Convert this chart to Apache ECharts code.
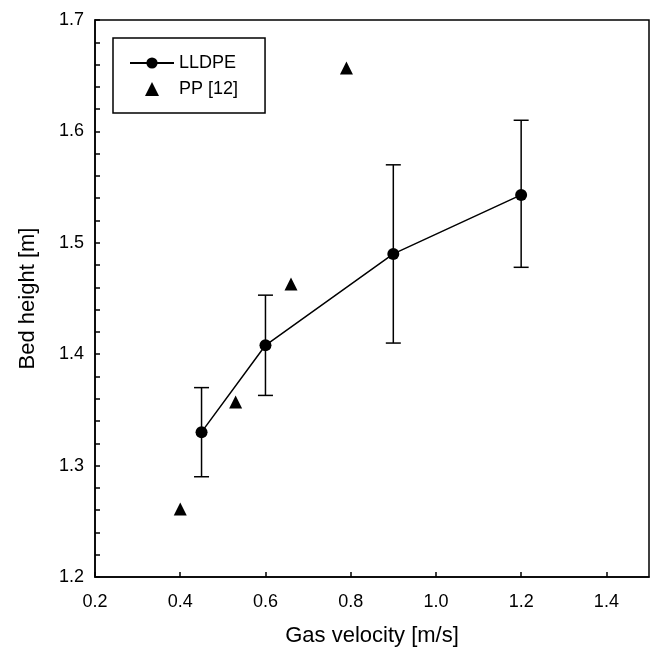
<!DOCTYPE html>
<html>
<head>
<meta charset="utf-8">
<script src="https://cdn.jsdelivr.net/npm/echarts@6/dist/echarts.min.js"></script>
<style>
html,body{margin:0;padding:0;background:#fff;}
#chart{width:656px;height:653px;}
</style>
</head>
<body>
<div id="chart"></div>
<script>
// LLDPE (this work), with error bars
const lldpeX = [0.45, 0.6, 0.9, 1.2];
const lldpeY = [1.330, 1.408, 1.490, 1.543];
const lldpeHigh = [1.370, 1.453, 1.570, 1.610];
const lldpeLow = [1.290, 1.363, 1.410, 1.478];
// PP [12]
const ppX = [0.40, 0.53, 0.66, 0.79];
const ppY = [1.261, 1.357, 1.463, 1.657];

const chart = echarts.init(document.getElementById('chart'), null, {renderer: 'canvas'});
const font = 'Liberation Sans, Arial, sans-serif';

const lineData = lldpeX.map((x, i) => [x, lldpeY[i]]);
const ppData = ppX.map((x, i) => [x, ppY[i]]);
const errData = lldpeX.map((x, i) => [x, lldpeLow[i], lldpeHigh[i]]);

chart.setOption({
  animation: false,
  backgroundColor: '#fff',
  grid: {
    left: 95, right: 7, top: 20, bottom: 76,
    show: true, borderColor: '#000', borderWidth: 1.5, backgroundColor: 'transparent'
  },
  legend: {
    left: 113, top: 38,
    orient: 'vertical',
    data: [
      {name: 'LLDPE'},
      {name: 'PP [12]', icon: 'path://M0,-1 L1,1 L-1,1 Z', itemStyle: {color: '#000', opacity: 1}}
    ],
    itemWidth: 44, itemHeight: 14, itemGap: 8,
    padding: [16, 27, 15, 16],
    borderColor: '#000', borderWidth: 1.5,
    textStyle: {fontFamily: font, fontSize: 18, color: '#000'}
  },
  xAxis: {
    type: 'value', min: 0.2, max: 1.5, interval: 0.2,
    name: 'Gas velocity [m/s]', nameLocation: 'middle', nameGap: 48,
    nameTextStyle: {fontFamily: font, fontSize: 22, color: '#000'},
    axisLine: {show: true, lineStyle: {color: '#000', width: 1.5}},
    axisTick: {show: true, inside: true, length: 5, lineStyle: {color: '#000', width: 1.5}},
    axisLabel: {fontFamily: font, fontSize: 18, color: '#000', margin: 16,
      formatter: v => v.toFixed(1), showMaxLabel: false},
    splitLine: {show: false}
  },
  yAxis: {
    type: 'value', min: 1.2, max: 1.7, interval: 0.1,
    name: 'Bed height [m]', nameLocation: 'middle', nameGap: 56,
    nameTextStyle: {fontFamily: font, fontSize: 22, color: '#000'},
    axisLine: {show: true, lineStyle: {color: '#000', width: 1.5}},
    axisTick: {show: true, inside: true, length: 5, lineStyle: {color: '#000', width: 1.5}},
    minorTick: {show: true, splitNumber: 5, length: 5, lineStyle: {color: '#000', width: 1.5}},
    axisLabel: {fontFamily: font, fontSize: 18, color: '#000', margin: 11,
      formatter: v => v.toFixed(1)},
    splitLine: {show: false}
  },
  series: [
    {
      name: 'LLDPE_err', type: 'custom', z: 3,
      data: errData,
      encode: {x: 0, y: [1, 2]},
      renderItem: function (params, api) {
        const x = api.value(0);
        const lo = api.coord([x, api.value(1)]);
        const hi = api.coord([x, api.value(2)]);
        const hw = 7.5;
        const st = {stroke: '#000', lineWidth: 1.5};
        return {
          type: 'group',
          children: [
            {type: 'line', shape: {x1: lo[0], y1: lo[1], x2: hi[0], y2: hi[1]}, style: st},
            {type: 'line', shape: {x1: lo[0] - hw, y1: lo[1], x2: lo[0] + hw, y2: lo[1]}, style: st},
            {type: 'line', shape: {x1: hi[0] - hw, y1: hi[1], x2: hi[0] + hw, y2: hi[1]}, style: st}
          ]
        };
      }
    },
    {
      name: 'LLDPE', type: 'line', z: 4,
      data: lineData,
      symbol: 'circle', symbolSize: 12,
      lineStyle: {color: '#000', width: 1.5},
      itemStyle: {color: '#000'}
    },
    {
      name: 'PP [12]', type: 'scatter', z: 4,
      data: ppData,
      symbol: 'triangle', symbolSize: 13,
      itemStyle: {color: '#000', opacity: 1}
    }
  ]
});
</script>
</body>
</html>
